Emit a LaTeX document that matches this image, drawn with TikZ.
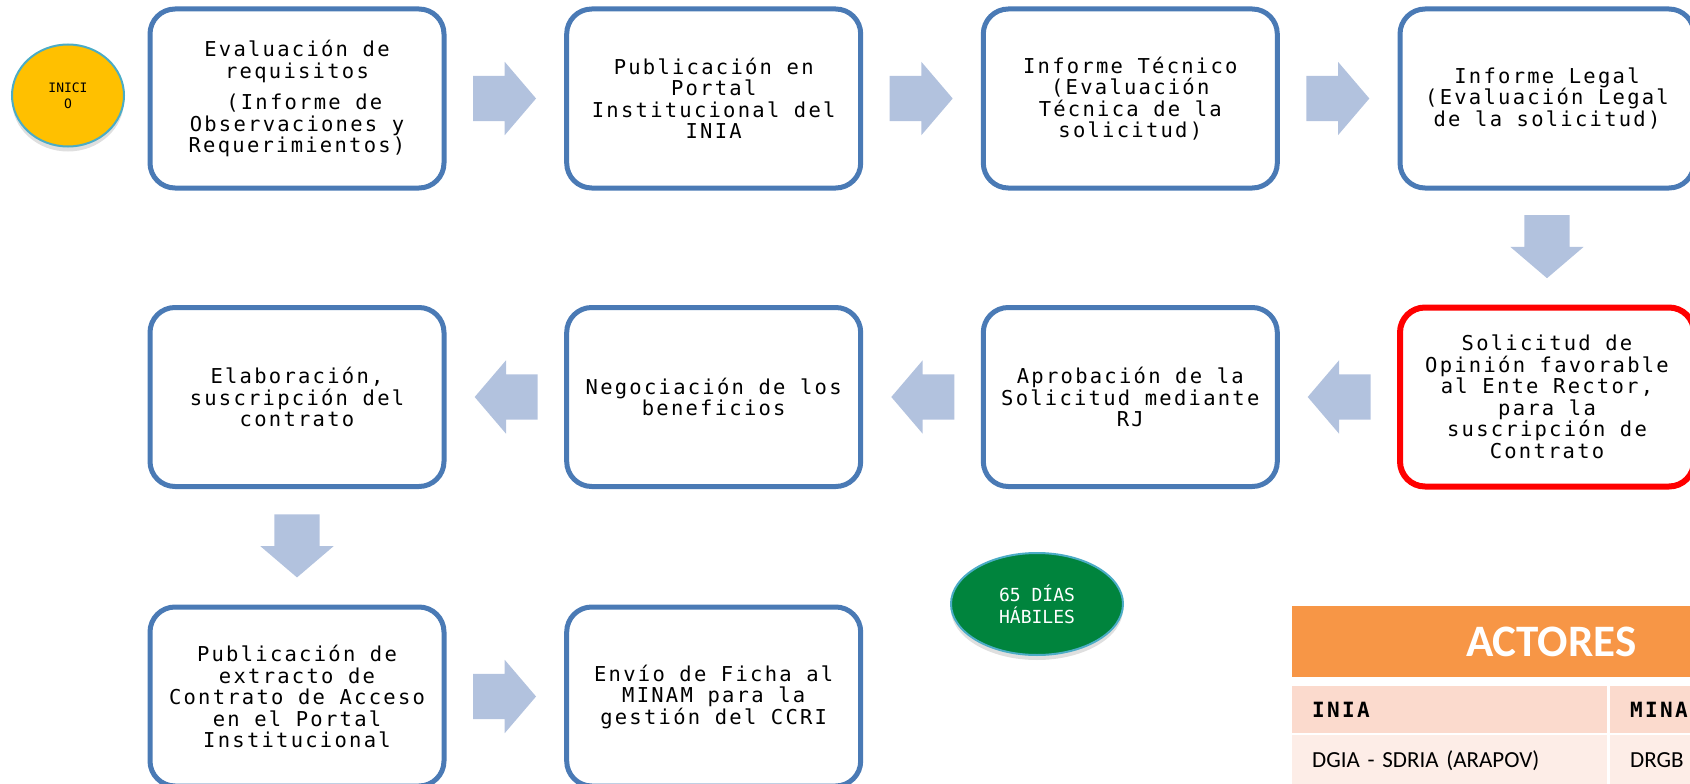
\documentclass[tikz,border=0pt]{standalone}
\usepackage{fontspec}
\usepackage{tikz}
\usetikzlibrary{positioning, calc, shapes.arrows, shapes.geometric, shadows}

\newfontfamily\cajafont[LetterSpace=11]{DejaVu Sans Mono}
\newfontfamily\monofont{DejaVu Sans Mono}
\newfontfamily\tablafont{Carlito}

\definecolor{borde}{RGB}{74,122,181}
\definecolor{flechaazul}{RGB}{178,194,222}
\definecolor{amarillo}{RGB}{255,192,0}
\definecolor{celeste}{RGB}{75,172,198}
\definecolor{verde}{RGB}{0,132,61}
\definecolor{naranja}{RGB}{247,150,70}
\definecolor{salmon}{RGB}{251,218,205}
\definecolor{salmonclaro}{RGB}{253,237,231}

\begin{document}
\begin{tikzpicture}[x = 1pt, y = 1pt,
  caja/.style = {draw = borde, line width = 5pt, rounded corners = 25pt, fill = white,
    minimum width = 294pt, minimum height = 179pt, align = center,
    font = \cajafont\fontsize{20.5}{21.5}\selectfont},
  flecha/.style = {single arrow, fill = flechaazul, minimum height = 63pt,
    inner xsep = 0pt, inner ysep = 22.5pt, xshift = -10.5pt,
    single arrow head extend = 14pt, single arrow tip angle = 99},
  celda/.style = {anchor = north west, inner xsep = 20pt, inner ysep = 0pt, align = left}]
\useasboundingbox (0,0) rectangle (1690,-784);
\clip (0,0) rectangle (1690,-784);

% first row
\node[ellipse, draw = celeste, line width = 2pt, fill = amarillo, minimum width = 112pt,
  minimum height = 102pt, align = center, font = \monofont\fontsize{13}{16}\selectfont,
  drop shadow = {shadow xshift = 0pt, shadow yshift = -5pt, opacity = .25}] (inicio) at (68,-95.5) {INICI\\O};
\node[caja] (eval)   at (297,-98.5)    {Evaluación de\\requisitos\\[10pt]~(Informe de\\Observaciones y\\Requerimientos)};
\node[caja] (publi)  at (713.7,-98.5)  {Publicación en\\Portal\\Institucional del\\INIA};
\node[caja] (tecnico) at (1130.3,-98.5) {Informe Técnico\\(Evaluación\\Técnica de la\\solicitud)};
\node[caja] (legal)  at (1547,-98.5)   {Informe Legal\\(Evaluación Legal\\de la solicitud)};

% second row
\node[caja, draw = red, line width = 6pt] (opinion) at (1547,-397) {Solicitud de\\Opinión favorable\\al Ente Rector,\\para la\\suscripción de\\Contrato};
\node[caja] (aprob)  at (1130.3,-397) {Aprobación de la\\Solicitud mediante\\RJ};
\node[caja] (negoc)  at (713.7,-397)  {Negociación de los\\beneficios};
\node[caja] (elab)   at (297,-397)    {Elaboración,\\suscripción del\\contrato};

% third row
\node[caja] (extracto) at (297,-696.5)   {Publicación de\\extracto de\\Contrato de Acceso\\en el Portal\\Institucional};
\node[caja] (ficha)    at (713.7,-696.5) {Envío de Ficha al\\MINAM para la\\gestión del CCRI};
\node[ellipse, draw = celeste, line width = 2pt, fill = verde, text = white, minimum width = 172pt,
  minimum height = 102pt, align = center, font = \monofont\fontsize{18}{22}\selectfont,
  drop shadow = {shadow xshift = 0pt, shadow yshift = -5pt, opacity = .25}] (dias) at (1037,-604) {65 DÍAS\\HÁBILES};

% arrows
\node[flecha] (f1) at ($(eval.east)!0.5!(publi.west)$) {};
\node[flecha] (f2) at ($(publi.east)!0.5!(tecnico.west)$) {};
\node[flecha] (f3) at ($(tecnico.east)!0.5!(legal.west)$) {};
\node[rotate = -90, flecha] (f4) at ($(legal.south)!0.5!(opinion.north)$) {};
\node[rotate = 180, flecha] (f5) at ($(opinion.west)!0.5!(aprob.east)$) {};
\node[rotate = 180, flecha] (f6) at ($(aprob.west)!0.5!(negoc.east)$) {};
\node[rotate = 180, flecha] (f7) at ($(negoc.west)!0.5!(elab.east)$) {};
\node[rotate = -90, flecha] (f8) at ($(elab.south)!0.5!(extracto.north)$) {};
\node[flecha] (f9) at ($(extracto.east)!0.5!(ficha.west)$) {};

% actors table
\node[fill = naranja, text = white, anchor = north west, minimum width = 518pt, minimum height = 71pt,
  inner sep = 0pt, font = \tablafont\bfseries\fontsize{45}{45}\selectfont] (actores) at (1292,-606) {ACTORES};
\node[celda, fill = salmon, text width = 275pt, minimum height = 47pt,
  font = \cajafont\bfseries\fontsize{21}{21}\selectfont] (inia) at (1292,-686) {INIA};
\node[celda, fill = salmon, text width = 160pt, minimum height = 47pt,
  font = \cajafont\bfseries\fontsize{21}{21}\selectfont] (minam) at (1610,-686) {MINA};
\node[celda, fill = salmonclaro, text width = 275pt, minimum height = 50pt,
  font = \tablafont\fontsize{23}{23}\selectfont] (dgia) at (1292,-735) {DGIA - SDRIA (ARAPOV)};
\node[celda, fill = salmonclaro, text width = 160pt, minimum height = 50pt,
  font = \tablafont\fontsize{23}{23}\selectfont] (drgb) at (1610,-735) {DRGB};
\end{tikzpicture}
\end{document}
